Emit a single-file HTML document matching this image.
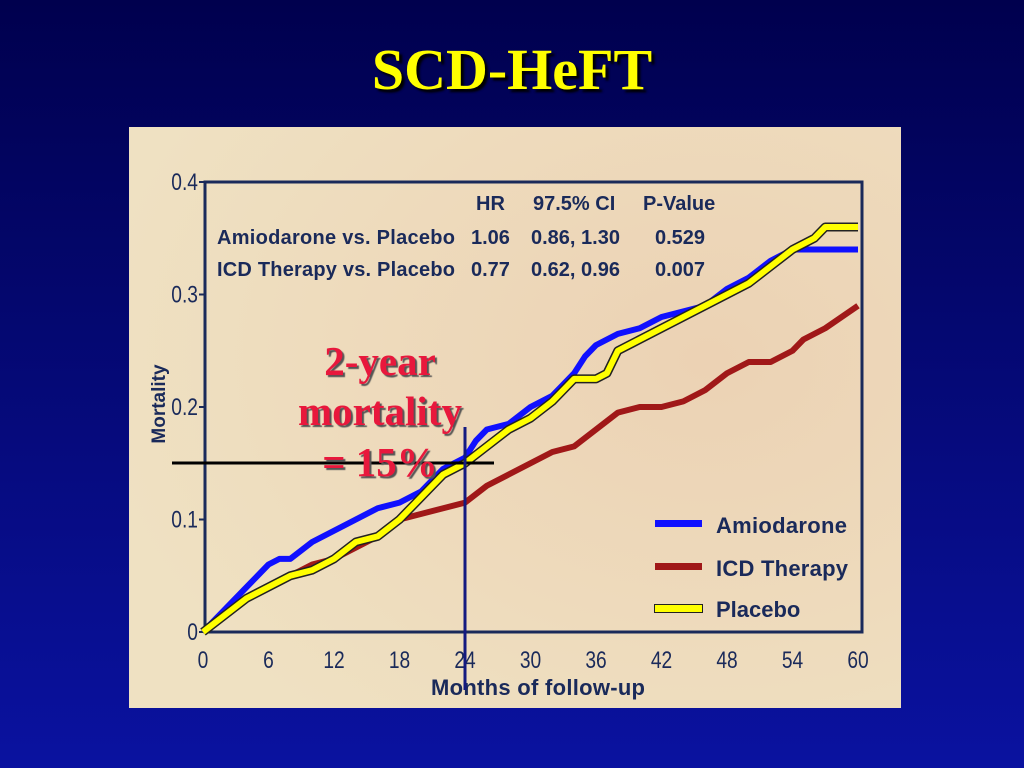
<!DOCTYPE html>
<html><head><meta charset="utf-8"><style>
body{margin:0;width:1024px;height:768px;overflow:hidden;background:linear-gradient(#00004e,#0a12a0);font-family:"Liberation Sans",sans-serif}
#title{position:absolute;left:0;width:1024px;top:36px;text-align:center;font:bold 58px "Liberation Serif",serif;color:#ffff00;text-shadow:3px 3px 2px #000}
svg{position:absolute;left:0;top:0}
</style></head><body>
<div id="title">SCD-HeFT</div>
<svg width="1024" height="768">
<defs><radialGradient id="bg" cx="0.75" cy="0.4" r="0.8"><stop offset="0" stop-color="#ecd2b4"/><stop offset="1" stop-color="#efe1c2"/></radialGradient></defs>
<rect x="129" y="127" width="772" height="581" fill="url(#bg)"/>
<rect x="205" y="182" width="657" height="450" fill="none" stroke="#1a2a5a" stroke-width="3"/>
<g id="axes"></g>
<g id="series"></g>
<g font-size="20" font-weight="bold" fill="#1a2a5a">
<text x="476" y="210">HR</text><text x="533" y="210">97.5% CI</text><text x="643" y="210">P-Value</text>
<text x="217" y="244" textLength="238">Amiodarone vs. Placebo</text><text x="471" y="244">1.06</text><text x="531" y="244">0.86, 1.30</text><text x="655" y="244">0.529</text>
<text x="217" y="276" textLength="238">ICD Therapy vs. Placebo</text><text x="471" y="276">0.77</text><text x="531" y="276">0.62, 0.96</text><text x="655" y="276">0.007</text>
</g>
<text transform="translate(165,404) rotate(-90)" text-anchor="middle" font-size="19" font-weight="bold" fill="#1a2a5a">Mortality</text>
<text x="538" y="695" text-anchor="middle" font-size="22" font-weight="bold" fill="#1a2a5a" textLength="214">Months of follow-up</text>
<g font-size="22" font-weight="bold" fill="#1a2a5a">
<rect x="655" y="520" width="47" height="7" fill="#1010ff"/><text x="716" y="533" textLength="131">Amiodarone</text>
<rect x="655" y="563" width="47" height="7" fill="#a01818"/><text x="716" y="576" textLength="132">ICD Therapy</text>
<rect x="654" y="604" width="49" height="9" fill="#222"/><rect x="655" y="605" width="47" height="7" fill="#ffff00"/><text x="716" y="617">Placebo</text>
</g>
<line x1="172" y1="463" x2="494" y2="463" stroke="#000" stroke-width="3"/>
<line x1="465" y1="427" x2="465" y2="690" stroke="#141a80" stroke-width="3"/>
<g font-family="Liberation Serif,serif" font-weight="bold" font-size="41" fill="#e8183c" text-anchor="middle" style="text-shadow:2px 2px 1px #555">
<text x="380" y="375">2-year</text><text x="380" y="425">mortality</text><text x="380" y="476">= 15%</text></g>
</svg>
<script>
const xTicks=[0,6,12,18,24,30,36,42,48,54,60];
const yTicks=[0,0.1,0.2,0.3,0.4];
const yTickLabels=["0","0.1","0.2","0.3","0.4"];
const amioMonths=[0,2,4,6,7,8,10,12,14,16,18,20,22,24,25,26,28,30,32,34,35,36,38,40,42,44,46,48,50,52,54,56,60];
const amioValues=[0,.02,.04,.06,.065,.065,.08,.09,.1,.11,.115,.125,.145,.155,.17,.18,.185,.2,.21,.23,.245,.255,.265,.27,.28,.285,.29,.305,.315,.33,.34,.34,.34];
const placMonths=[0,2,4,6,8,10,12,14,16,18,20,22,24,26,28,30,32,34,36,37,38,40,42,44,46,48,50,52,54,56,57,60];
const placValues=[0,.015,.03,.04,.05,.055,.065,.08,.085,.1,.12,.14,.15,.165,.18,.19,.205,.225,.225,.23,.25,.26,.27,.28,.29,.3,.31,.325,.34,.35,.36,.36];
const icdMonths=[0,2,4,6,8,10,12,14,16,18,20,22,24,26,28,30,32,34,36,38,40,42,44,46,48,50,52,54,55,57,60];
const icdValues=[0,.015,.03,.04,.05,.06,.065,.075,.085,.1,.105,.11,.115,.13,.14,.15,.16,.165,.18,.195,.2,.2,.205,.215,.23,.24,.24,.25,.26,.27,.29];
const NS="http://www.w3.org/2000/svg";
const xs=m=>203+m*(655/60), ys=v=>632-v*1125;
const ax=document.getElementById('axes'), sg=document.getElementById('series');
function mk(t,a,p){const e=document.createElementNS(NS,t);for(const k in a)e.setAttribute(k,a[k]);p.appendChild(e);return e;}
xTicks.forEach(m=>{const t=mk('text',{x:xs(m),y:668,'text-anchor':'middle','font-size':'24',fill:'#1a2a5a',transform:`translate(${xs(m)},668) scale(0.8,1) translate(${-xs(m)},-668)`},ax);t.textContent=m;

});
yTicks.forEach((v,i)=>{const t=mk('text',{x:198,y:ys(v)+8,'text-anchor':'end','font-size':'24',fill:'#1a2a5a',transform:`translate(198,${ys(v)}) scale(0.8,1) translate(-198,${-ys(v)})`},ax);t.textContent=yTickLabels[i];


mk('line',{x1:199,x2:205,y1:ys(v),y2:ys(v),stroke:'#1a2a5a','stroke-width':2},ax);});
function path(ms,vs){let d=`M${xs(ms[0])},${ys(vs[0])}`;for(let i=1;i<ms.length;i++){d+=`L${xs(ms[i])},${ys(vs[i])}`;}return d;}
function line(ms,vs,col,name,outline){
 if(outline){const o=mk('path',{d:path(ms,vs),fill:'none',stroke:'#222','stroke-width':9,'stroke-linejoin':'round'},sg);}
 const p=mk('path',{d:path(ms,vs),fill:'none',stroke:col,'stroke-width':6,'stroke-linejoin':'round'},sg);
 
 }
line(icdMonths,icdValues,'#a01818','icd-therapy-line',false);
line(amioMonths,amioValues,'#1010ff','amiodarone-line',false);
line(placMonths,placValues,'#ffff00','placebo-line',true);
</script>
</body></html>
